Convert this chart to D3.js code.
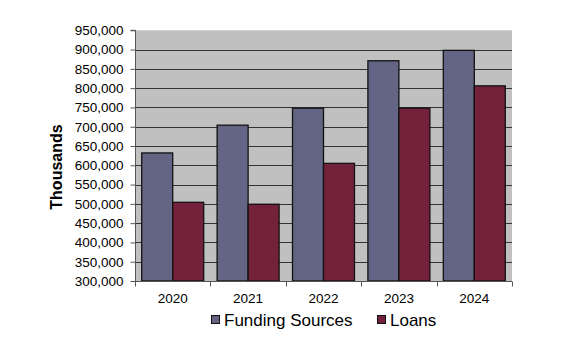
<!DOCTYPE html>
<html><head><meta charset="utf-8">
<script src="https://cdn.jsdelivr.net/npm/d3@7"></script>
<style>body{margin:0;background:#fff;} svg{display:block;font-family:Arial,"Liberation Sans",sans-serif;}</style>
</head><body>
<svg id="c" width="573" height="356"></svg>
<script>
const categories = ["2020","2021","2022","2023","2024"];
const seriesNames = ["Funding Sources","Loans"];
const fundingSources = [632000, 704000, 748000, 871000, 898000];
const loans = [504000, 499000, 605000, 748000, 806000];
const yTicks = [300000,350000,400000,450000,500000,550000,600000,650000,700000,750000,800000,850000,900000,950000];
const colors = ["#646485", "#74223b"];

const svg = d3.select("#c");
const L = 135, R = 512, T = 30.3, B = 281;
const y = d3.scaleLinear().domain([300000, 950000]).range([B, T]);
const x0 = d3.scaleBand().domain(categories).range([L, R]).paddingInner(0.178).paddingOuter(0.089);
const x1 = d3.scaleBand().domain(seriesNames).range([0, x0.bandwidth()]);

svg.append("rect").attr("x", L).attr("y", T).attr("width", R - L).attr("height", B - T).attr("fill", "#c0c0c0");

// gridlines
svg.append("g").selectAll("line").data(yTicks.slice(1, -1)).join("line")
  .attr("x1", L).attr("x2", R).attr("y1", d => Math.round(y(d)) + 0.5).attr("y2", d => Math.round(y(d)) + 0.5)
  .attr("stroke", "#333").attr("stroke-width", 1);

// bars
const data = categories.map((c, i) => ({c, vals: [fundingSources[i], loans[i]]}));
const g = svg.append("g").selectAll("g").data(data).join("g").attr("transform", d => `translate(${x0(d.c)},0)`);
g.selectAll("rect").data(d => d.vals.map((v, j) => ({name: seriesNames[j], v, j}))).join("rect")
  .attr("x", d => x1(d.name)).attr("width", x1.bandwidth())
  .attr("y", d => y(d.v)).attr("height", d => B - y(d.v))
  .attr("fill", d => colors[d.j]).attr("stroke", "#111").attr("stroke-width", 1.3);

// y axis
const yAxis = d3.axisLeft(y).tickValues(yTicks).tickSize(5).tickPadding(7).tickFormat(d3.format(","));
const ya = svg.append("g").attr("transform", `translate(${L + 0.5},0)`).call(yAxis);
ya.select(".domain").attr("stroke", "#555").attr("d", `M-5,${T}H0V${B}`);
ya.selectAll(".tick line").attr("stroke", "#555");
ya.selectAll("text").attr("font-size", "13.5px").attr("fill", "#000").attr("font-family", "Arial, 'Liberation Sans', sans-serif");

// x axis
const xa = svg.append("g").attr("transform", `translate(0,${B + 0.5})`);
xa.append("line").attr("x1", L).attr("x2", R).attr("stroke", "#555");
const bounds = categories.map(c => x0(c) - x0.step() * x0.paddingInner() / 2).concat([R]);
xa.selectAll("line.t").data(bounds).join("line").attr("class", "t")
  .attr("x1", d => Math.round(d) + 0.5).attr("x2", d => Math.round(d) + 0.5).attr("y1", 0).attr("y2", 5).attr("stroke", "#555");
xa.selectAll("text").data(categories).join("text")
  .attr("x", d => x0(d) + x0.bandwidth() / 2).attr("y", 21).attr("text-anchor", "middle")
  .attr("font-size", "13.5px").text(d => d);

// y title
svg.append("text").attr("transform", "translate(62,167) rotate(-90)").attr("text-anchor", "middle")
  .attr("font-size", "16px").attr("font-weight", "bold").text("Thousands");

// legend
const legendX = [211, 377];
const lg = svg.append("g").selectAll("g").data(seriesNames).join("g")
  .attr("transform", (d, i) => `translate(${legendX[i]},315)`);
lg.append("rect").attr("x", 0.5).attr("y", 0.5).attr("width", 8).attr("height", 8)
  .attr("fill", (d, i) => colors[i]).attr("stroke", "#111").attr("stroke-width", 1);
lg.append("text").attr("x", (d, i) => i === 0 ? 13 : 13).attr("y", 11).attr("font-size", "17px").text(d => d);
</script>
</body></html>
